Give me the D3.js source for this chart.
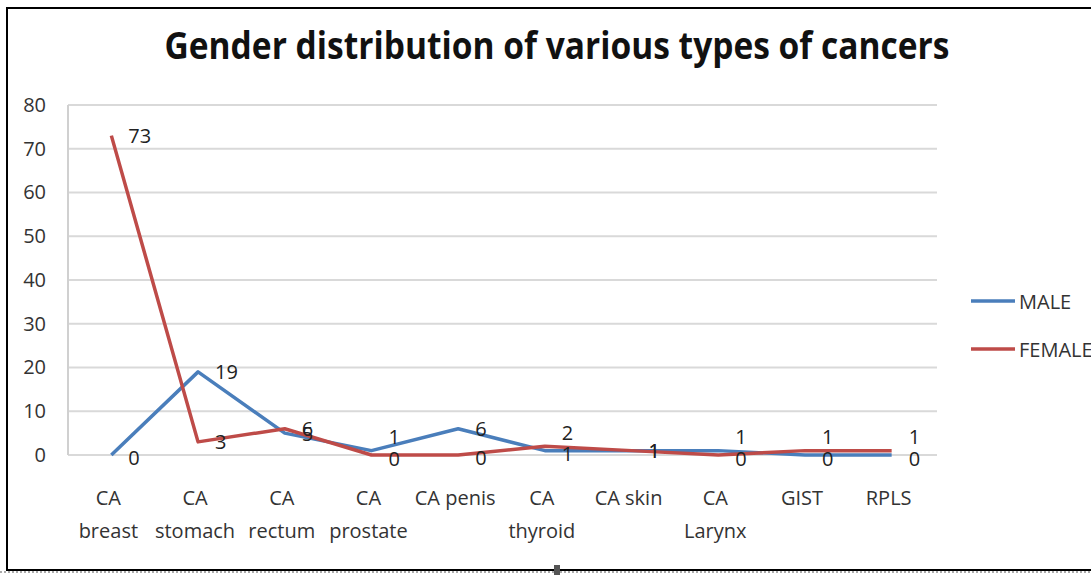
<!DOCTYPE html>
<html><head><meta charset="utf-8">
<script src="https://cdn.jsdelivr.net/npm/d3@7"></script>
<style>
html,body{margin:0;padding:0;background:#fff;overflow:hidden;}
svg text{font-family:"Liberation Sans Narrow","Open Sans","Liberation Sans",sans-serif;}
</style></head>
<body>
<svg id="chart" width="1091" height="575"></svg>
<script>
const title = "Gender distribution of various types of cancers";
const categories = [["CA","breast"],["CA","stomach"],["CA","rectum"],["CA","prostate"],["CA penis"],["CA","thyroid"],["CA skin"],["CA","Larynx"],["GIST"],["RPLS"]];
const maleValues   = [0, 19, 5, 1, 6, 1, 1, 1, 0, 0];
const femaleValues = [73, 3, 6, 0, 0, 2, 1, 0, 1, 1];
const yTicks = [0,10,20,30,40,50,60,70,80];
const seriesNames = ["MALE","FEMALE"];
const seriesColors = ["#4a7ebb","#be4b48"];

const svg = d3.select("#chart");
const pLeft = 68, pRight = 935, pTop = 105, pBottom = 455;

// frame
svg.append("rect").attr("x",7).attr("y",8).attr("width",1200).attr("height",562)
  .attr("fill","none").attr("stroke","#000").attr("stroke-width",2);
svg.append("line").attr("x1",0).attr("x2",1091).attr("y1",572).attr("y2",572)
  .attr("stroke","#aaa").attr("stroke-width",2).attr("stroke-dasharray","2,2");
svg.append("rect").attr("x",554).attr("y",565).attr("width",6).attr("height",10).attr("fill","#555");

// title
svg.append("text").attr("x",557).attr("y",59).attr("text-anchor","middle")
  .attr("font-size",38).attr("font-weight","bold").attr("fill","#111")
  .attr("textLength",785).attr("lengthAdjust","spacingAndGlyphs")
  .style("font-family","'Open Sans','Liberation Sans',sans-serif")
  .text(title);

const x = d3.scalePoint().domain(d3.range(categories.length)).range([pLeft, pRight]).padding(0.5);
const y = d3.scaleLinear().domain([0,80]).range([pBottom, pTop]);

// gridlines
svg.append("g").selectAll("line").data(yTicks).join("line")
  .attr("x1",pLeft).attr("x2",pRight+2).attr("y1",d=>y(d)).attr("y2",d=>y(d))
  .attr("stroke","#d9d9d9").attr("stroke-width",2);
svg.append("line").attr("x1",pLeft).attr("x2",pLeft).attr("y1",pTop).attr("y2",pBottom)
  .attr("stroke","#d0d0d0").attr("stroke-width",2);

// y axis
const yAxis = svg.append("g").attr("transform",`translate(${pLeft-8},0)`)
  .call(d3.axisLeft(y).tickValues(yTicks).tickSize(0).tickPadding(14));
yAxis.select(".domain").remove();
yAxis.selectAll("text").attr("font-size",20).attr("fill","#333")
  .style("font-family","'Liberation Sans Narrow','Open Sans',sans-serif");

// x axis labels
const xg = svg.append("g");
categories.forEach((c,i)=>{
  const t = xg.append("text").attr("x",x(i)-3).attr("y",505).attr("text-anchor","middle")
    .attr("font-size",20).attr("fill","#333");
  c.forEach((line,j)=>{
    t.append("tspan").attr("x",x(i)-3).attr("dy", j===0?0:33).text(line);
  });
});

// lines
const series = [maleValues, femaleValues];
const lineGen = d3.line().x((d,i)=>x(i)).y(d=>y(d));
series.forEach((vals,s)=>{
  svg.append("path").datum(vals).attr("d",lineGen)
    .attr("fill","none").attr("stroke",seriesColors[s]).attr("stroke-width",3.5)
    .attr("stroke-linejoin","round");
});

// data labels (right of point, nudged apart when small values collide)
series.forEach((vals,s)=>{
  const other = series[1-s];
  vals.forEach((v,i)=>{
    let dy = 0;
    const o = other[i];
    if (v !== o && Math.abs(v-o) <= 2 && Math.min(v,o) <= 1) dy = v > o ? -14 : 3;
    else if (v === 0) dy = 2;
    svg.append("text").attr("x",x(i)+17).attr("y",y(v)+dy)
      .attr("dominant-baseline","central").attr("font-size",20).attr("fill","#222")
      .text(v);
  });
});

// legend
seriesNames.forEach((n,s)=>{
  const ly = 301 + s*48;
  svg.append("line").attr("x1",971).attr("x2",1015).attr("y1",ly).attr("y2",ly)
    .attr("stroke",seriesColors[s]).attr("stroke-width",3.5);
  svg.append("text").attr("x",1019).attr("y",ly).attr("dominant-baseline","central")
    .attr("font-size",20).attr("fill","#333").text(n);
});
</script>
</body></html>
